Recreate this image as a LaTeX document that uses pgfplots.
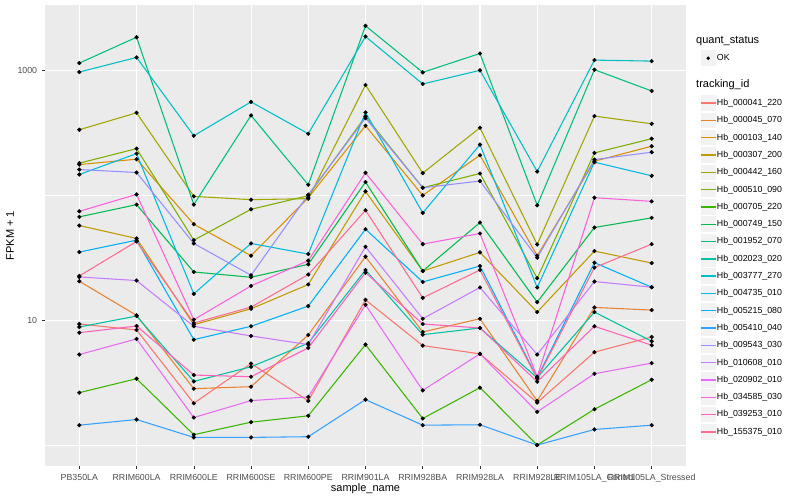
\documentclass[border=0pt]{standalone}
\usepackage{pgfplots}
\pgfplotsset{compat=1.18}
\usepackage{pgfplotstable}
\usepackage{fontspec}
\setmainfont{Liberation Sans}

\definecolor{panelbg}{HTML}{EBEBEB}
\definecolor{grey30}{HTML}{4D4D4D}
\definecolor{grey20}{HTML}{333333}
\definecolor{keybg}{HTML}{F2F2F2}
\definecolor{ca041}{HTML}{F8766D}
\definecolor{ca045}{HTML}{EA8331}
\definecolor{ca103}{HTML}{D89000}
\definecolor{ca307}{HTML}{C09B00}
\definecolor{ca442}{HTML}{A3A500}
\definecolor{ca510}{HTML}{7CAE00}
\definecolor{ca705}{HTML}{39B600}
\definecolor{ca749}{HTML}{00BB4E}
\definecolor{ca1952}{HTML}{00BF7D}
\definecolor{ca2023}{HTML}{00C1A3}
\definecolor{ca3777}{HTML}{00BFC4}
\definecolor{ca4735}{HTML}{00BAE0}
\definecolor{ca5215}{HTML}{00B0F6}
\definecolor{ca5410}{HTML}{35A2FF}
\definecolor{ca9543}{HTML}{9590FF}
\definecolor{ca10608}{HTML}{C77CFF}
\definecolor{ca20902}{HTML}{E76BF3}
\definecolor{ca34585}{HTML}{FA62DB}
\definecolor{ca39253}{HTML}{FF62BC}
\definecolor{ca155375}{HTML}{FF6C91}

\pgfplotstableread{
x a041 a045 a103 a307 a442 a510 a705 a749 a1952 a2023 a3777 a4735 a5215 a5410 a9543 a10608 a20902 a34585 a39253 a155375
1 9.344 20.56 176.9 57.45 336.3 181.6 2.634 67.42 1150 8.844 974.6 147.3 35.21 1.446 161.4 22.26 5.319 74.7 7.964 22.67
2 8.371 10.96 195.4 45.26 459.4 237.3 3.406 84.5 1852 10.82 1276 216.5 43.87 1.605 152.8 20.83 7.096 102.0 9.006 42.84
3 2.165 2.836 58.85 9.224 98.4 43.87 1.213 24.39 84.5 3.242 301.1 16.29 7.004 1.154 41.29 8.959 1.665 10.11 3.646 9.517
4 4.510 2.942 32.95 12.37 92.6 77.5 1.528 22.13 437.9 4.245 562.1 41.29 8.959 1.154 22.96 7.497 2.275 18.87 3.534 12.76
5 2.262 7.636 96.0 19.36 94.3 99.6 1.718 28.09 121.9 6.558 312.4 33.94 13.00 1.169 101.5 6.392 2.435 30.07 6.016 23.26
6 14.59 32.36 361.9 107.8 768.0 430.0 6.392 128.1 2284 25.30 1876 462.7 53.70 2.317 416.8 38.87 13.31 151.9 24.12 76.08
7 6.275 8.068 100.2 24.84 151.1 115.4 1.635 24.84 969.4 7.678 782.0 72.54 20.30 1.446 115.4 10.30 2.748 40.77 9.344 15.14
8 5.387 10.30 210.2 35.02 348.8 150.1 2.888 60.72 1373 8.683 1005.6 255.4 27.23 1.457 130.5 18.32 5.387 49.61 8.683 25.30
9 2.193 2.262 32.95 11.65 40.55 21.74 1.002 13.99 83.4 3.469 155.6 18.32 3.469 1.002 31.77 5.319 1.849 3.534 3.224 3.406
10 5.559 12.69 188.3 35.86 432.4 219.3 1.940 55.39 1018 11.65 1214.6 184.9 28.98 1.336 193.9 20.45 3.733 96.0 8.959 26.44
11 7.361 12.08 248.0 28.77 375.3 285.1 3.344 66.19 687.8 6.801 1192.5 143.8 18.42 1.446 222.2 18.42 4.543 89.74 6.321 40.77
}\datatable

\begin{document}
\begin{tikzpicture}
\path[use as bounding box] (-45pt,-34pt) rectangle (755pt,466pt);
\begin{axis}[
  scale only axis, width=641pt, height=461pt,
  xmin=0.4, xmax=11.6,
  ymode=log, ymin=0.681, ymax=3357,
  axis background/.style={fill=panelbg},
  axis line style={draw=none},
  tick pos=left,
  tick align=outside,
  major tick length=2.75pt,
  minor tick length=0pt,
  every tick/.style={grey20, line width=0.5pt},
  xtick={1,2,3,4,5,6,7,8,9,10,11},
  xticklabels={PB350LA,RRIM600LA,RRIM600LE,RRIM600SE,RRIM600PE,RRIM901LA,RRIM928BA,RRIM928LA,RRIM928LE,RRIM105LA\_Control,RRIM105LA\_Stressed},
  ytick={10,1000}, yticklabels={10,1000},
  minor ytick={1,100},
  xmajorgrids=true, ymajorgrids=true, yminorgrids=true,
  major grid style={white, line width=1.07pt},
  minor grid style={white, line width=0.53pt},
  tick label style={font=\fontsize{8.8}{10}\selectfont, text=grey30, inner sep=0pt},
  xticklabel shift=4.95pt,
  yticklabel shift=4.95pt,
  xticklabel style={anchor=north},
  yticklabel style={anchor=east},
  every axis x label/.style={at={(axis description cs:0.5,0)}, anchor=center, yshift=-22.5pt, font=\fontsize{11}{13}\selectfont},
  every axis y label/.style={at={(axis description cs:0,0.5)}, xshift=-35pt, anchor=center, rotate=90, font=\fontsize{11}{13}\selectfont},
  xlabel={sample\_name},
  ylabel={FPKM + 1},
  legend image code/.code={\fill[keybg, draw=none] (0.9pt,-7.75pt) rectangle (16.4pt,7.75pt); \path[draw=none, fill=none] (0pt,-8.65pt) rectangle (17.3pt,8.65pt); \draw[#1] (1.3pt,0pt) -- (16pt,0pt);},
  legend cell align=left,
  legend style={at={(axis description cs:1,1)}, anchor=north west, xshift=10.4pt, yshift=-42.4pt,
    draw=none, fill=none, font=\fontsize{8.8}{10}\selectfont, row sep=0pt, column sep=0pt,
    nodes={inner sep=0pt}, cells={anchor=west},
    /tikz/every even column/.style={column sep=2.8pt}},
]
\addlegendimage{legend image code/.code={\fill[keybg, draw=none] (0.9pt,-7.75pt) rectangle (16.4pt,7.75pt); \path[draw=none, fill=none] (0pt,-8.65pt) rectangle (17.3pt,8.65pt); \fill[black, draw=none] (8.65pt,0pt) circle (1.9pt);}}
\addlegendentry{OK}
\addlegendimage{empty legend}
\addlegendentry{\rule{0pt}{26.1pt}}
\addlegendimage{ca041, line width=1.4pt}\addlegendentry{Hb\_000041\_220}
\addlegendimage{ca045, line width=1.4pt}\addlegendentry{Hb\_000045\_070}
\addlegendimage{ca103, line width=1.4pt}\addlegendentry{Hb\_000103\_140}
\addlegendimage{ca307, line width=1.4pt}\addlegendentry{Hb\_000307\_200}
\addlegendimage{ca442, line width=1.4pt}\addlegendentry{Hb\_000442\_160}
\addlegendimage{ca510, line width=1.4pt}\addlegendentry{Hb\_000510\_090}
\addlegendimage{ca705, line width=1.4pt}\addlegendentry{Hb\_000705\_220}
\addlegendimage{ca749, line width=1.4pt}\addlegendentry{Hb\_000749\_150}
\addlegendimage{ca1952, line width=1.4pt}\addlegendentry{Hb\_001952\_070}
\addlegendimage{ca2023, line width=1.4pt}\addlegendentry{Hb\_002023\_020}
\addlegendimage{ca3777, line width=1.4pt}\addlegendentry{Hb\_003777\_270}
\addlegendimage{ca4735, line width=1.4pt}\addlegendentry{Hb\_004735\_010}
\addlegendimage{ca5215, line width=1.4pt}\addlegendentry{Hb\_005215\_080}
\addlegendimage{ca5410, line width=1.4pt}\addlegendentry{Hb\_005410\_040}
\addlegendimage{ca9543, line width=1.4pt}\addlegendentry{Hb\_009543\_030}
\addlegendimage{ca10608, line width=1.4pt}\addlegendentry{Hb\_010608\_010}
\addlegendimage{ca20902, line width=1.4pt}\addlegendentry{Hb\_020902\_010}
\addlegendimage{ca34585, line width=1.4pt}\addlegendentry{Hb\_034585\_030}
\addlegendimage{ca39253, line width=1.4pt}\addlegendentry{Hb\_039253\_010}
\addlegendimage{ca155375, line width=1.4pt}\addlegendentry{Hb\_155375\_010}
\pgfplotsinvokeforeach{a041,a045,a103,a307,a442,a510,a705,a749,a1952,a2023,a3777,a4735,a5215,a5410,a9543,a10608,a20902,a34585,a39253,a155375}{
  \addplot[forget plot, color=c#1, line width=1.07pt] table[x=x, y=#1] {\datatable};
}
\pgfplotsinvokeforeach{a041,a045,a103,a307,a442,a510,a705,a749,a1952,a2023,a3777,a4735,a5215,a5410,a9543,a10608,a20902,a34585,a39253,a155375}{
  \addplot[forget plot, only marks, mark=*, mark size=1.9pt, black] table[x=x, y=#1] {\datatable};
}
\end{axis}
\node[anchor=west, font=\fontsize{11}{13}\selectfont, inner sep=0pt] at (651pt,425.3pt) {quant\_status};
\node[anchor=west, font=\fontsize{11}{13}\selectfont, inner sep=0pt] at (651pt,381.7pt) {tracking\_id};
\end{tikzpicture}
\end{document}
